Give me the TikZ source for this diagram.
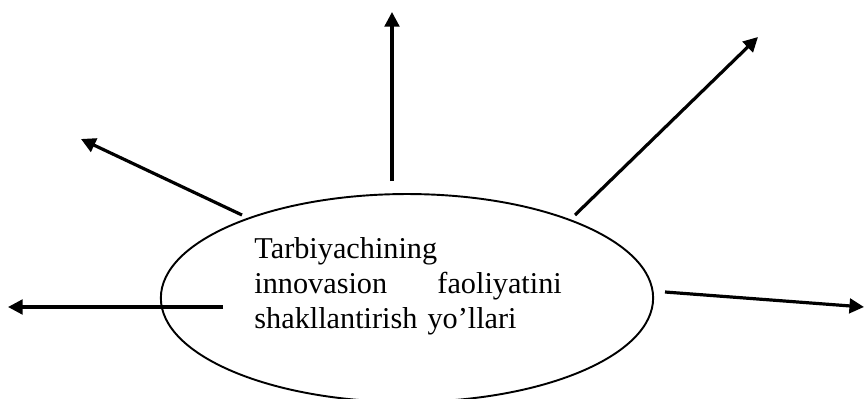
\documentclass[tikz,border=0pt]{standalone}
\usepackage{fontspec}
\setmainfont{Liberation Serif}
\usetikzlibrary{arrows.meta, shapes.geometric}

\begin{document}
\begin{tikzpicture}[x=0.0165cm, y=-0.0165cm,
  ray/.style={line width=1.5pt, -{Triangle[length=0.24cm,width=0.24cm]}},
  oval/.style={ellipse, draw, line width=0.9pt, minimum width=8.12cm, minimum height=3.43cm, inner sep=0pt},
  caption/.style={text width=5.07cm, align=left, inner sep=0pt, anchor=north west, font=\fontsize{14.2}{16.4}\selectfont}]
%\draw[step=50,gray,very thin] (0,0) grid (865,398);
\clip (0,0) rectangle (865,398);

\node[oval] (centre) at (407,298) {};
\node[caption] (title) at (254,237) {Tarbiyachining\\
innovasion \hfill faoliyatini\\
shakllantirish yo’llari};

%%%%%%%%%%%%%%%%%%%%%%%%%%%%%%%%%%%%%%%%%
% ray ends
\coordinate (ulfrom) at (242,215);
\coordinate (ulto) at (81,139);
\coordinate (upfrom) at (392,181);
\coordinate (upto) at (392,12);
\coordinate (urfrom) at (575,215);
\coordinate (urto) at (758,37);
\coordinate (lfrom) at (223,307);
\coordinate (lto) at (8,307);
\coordinate (rfrom) at (665,292);
\coordinate (rto) at (864,307);

\draw[ray] (ulfrom)--(ulto);
\draw[ray] (upfrom)--(upto);
\draw[ray] (urfrom)--(urto);
\draw[ray] (lfrom)--(lto);
\draw[ray] (rfrom)--(rto);

\end{tikzpicture}
\end{document}
